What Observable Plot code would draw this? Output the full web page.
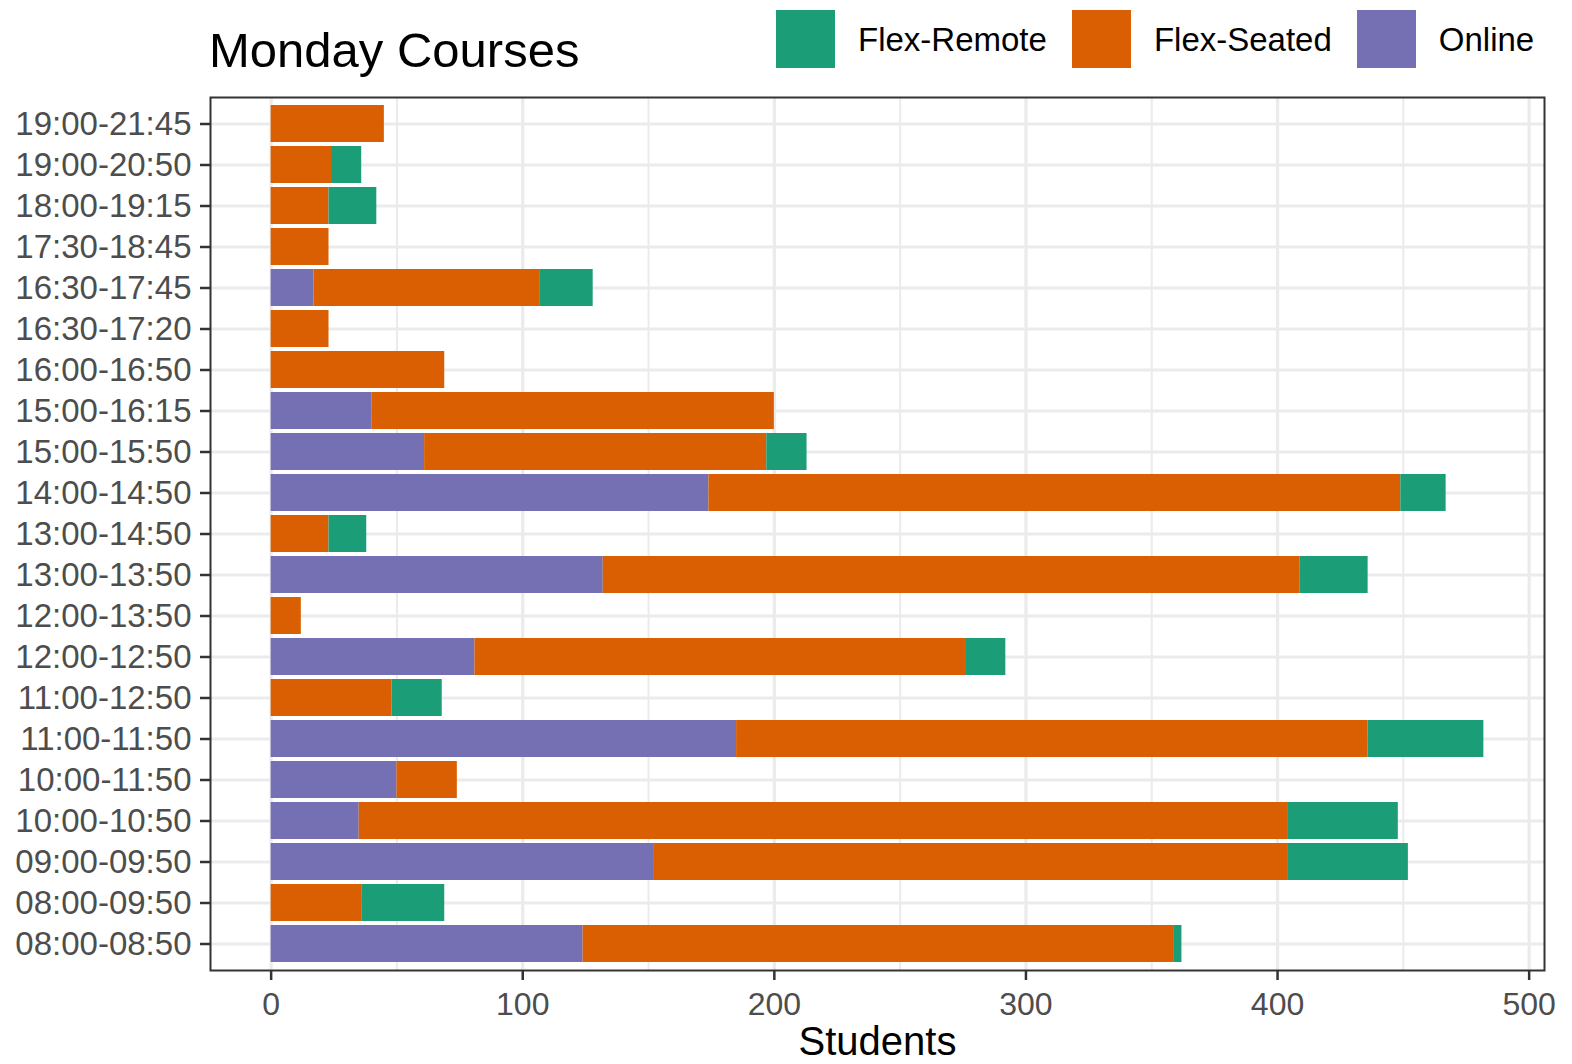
<!DOCTYPE html>
<html><head><meta charset="utf-8">
<script src="https://cdn.jsdelivr.net/npm/d3@7"></script>
<script src="https://cdn.jsdelivr.net/npm/@observablehq/plot@0.6"></script>
<style>
body{margin:0;background:#fff;font-family:"Liberation Sans",Arial,sans-serif;}
#wrap{position:relative;width:1572px;height:1064px;}
#header{position:relative;height:90px;}
#title{position:absolute;left:209px;top:26px;font-size:49px;line-height:1;color:#000;white-space:nowrap;}
#legend{position:absolute;left:776px;top:10px;display:flex;align-items:center;height:58px;}
.item{display:flex;align-items:center;margin-right:25px;}
.key{width:59px;height:58px;margin-right:23px;}
.lab{font-size:33px;line-height:1;color:#000;white-space:nowrap;}
</style></head><body>
<div id="wrap"><div id="header"><div id="title"></div><div id="legend"></div></div><div id="chart"></div></div>
<script>
const title = "Monday Courses";
const xLabel = "Students";
const categories = ["19:00-21:45","19:00-20:50","18:00-19:15","17:30-18:45","16:30-17:45","16:30-17:20","16:00-16:50","15:00-16:15","15:00-15:50","14:00-14:50","13:00-14:50","13:00-13:50","12:00-13:50","12:00-12:50","11:00-12:50","11:00-11:50","10:00-11:50","10:00-10:50","09:00-09:50","08:00-09:50","08:00-08:50"];
const online     = [0, 0, 0, 0, 17, 0, 0, 40, 61, 174, 0, 132, 0, 81, 0, 185, 50, 35, 152, 0, 124];
const flexSeated = [45, 24, 23, 23, 90, 23, 69, 160, 136, 275, 23, 277, 12, 195, 48, 251, 24, 369, 252, 36, 235];
const flexRemote = [0, 12, 19, 0, 21, 0, 0, 0, 16, 18, 15, 27, 0, 16, 20, 46, 0, 44, 48, 33, 3];
const types = ["Flex-Remote", "Flex-Seated", "Online"];
const colors = ["#1B9E77", "#D95F02", "#7570B3"];
const xTicks = [0, 100, 200, 300, 400, 500];
const xMinor = [50, 150, 250, 350, 450];
const xDomain = [-24.1, 506.1];

document.getElementById("title").textContent = title;
const legend = document.getElementById("legend");
types.forEach((t, i) => {
  const it = document.createElement("div"); it.className = "item";
  const k = document.createElement("div"); k.className = "key"; k.style.background = colors[i];
  const l = document.createElement("div"); l.className = "lab"; l.textContent = t;
  it.appendChild(k); it.appendChild(l); legend.appendChild(it);
});

const rows = [];
categories.forEach((c, i) => {
  rows.push({cat: c, type: "Online", value: online[i]});
  rows.push({cat: c, type: "Flex-Seated", value: flexSeated[i]});
  rows.push({cat: c, type: "Flex-Remote", value: flexRemote[i]});
});
const data = rows.filter(d => d.value > 0);

const chart = Plot.plot({
  width: 1572,
  height: 974,
  marginTop: 7,
  marginBottom: 94,
  marginLeft: 210,
  marginRight: 28,
  style: {fontFamily: "Liberation Sans, Arial, sans-serif", fontSize: "32px", color: "#4d4d4d", background: "white"},
  x: {domain: xDomain, label: null},
  y: {domain: categories, paddingInner: 0.1, paddingOuter: 0.15, label: null},
  color: {domain: types, range: colors},
  marks: [
    Plot.ruleX(xMinor, {stroke: "#ebebeb", strokeWidth: 2}),
    Plot.ruleX(xTicks, {stroke: "#ebebeb", strokeWidth: 3.2}),
    Plot.ruleY(categories, {stroke: "#ebebeb", strokeWidth: 3.2}),
    Plot.barX(data, Plot.stackX({x: "value", y: "cat", fill: "type"})),
    Plot.frame({stroke: "#333333", strokeWidth: 2}),
    Plot.axisX(xTicks, {anchor: "bottom", tickSize: 10, tickPadding: 12, stroke: "#333333", strokeWidth: 2.5, fill: "#4d4d4d", fontSize: 32, label: null}),
    Plot.axisY({anchor: "left", tickSize: 10, tickPadding: 9, stroke: "#333333", strokeWidth: 2.5, fill: "#4d4d4d", fontSize: 33, label: null}),
    Plot.text([xLabel], {text: d => d, frameAnchor: "bottom", dy: 84, fontSize: 40, fill: "black"})
  ]
});
document.getElementById("chart").appendChild(chart);
</script>
</body></html>
